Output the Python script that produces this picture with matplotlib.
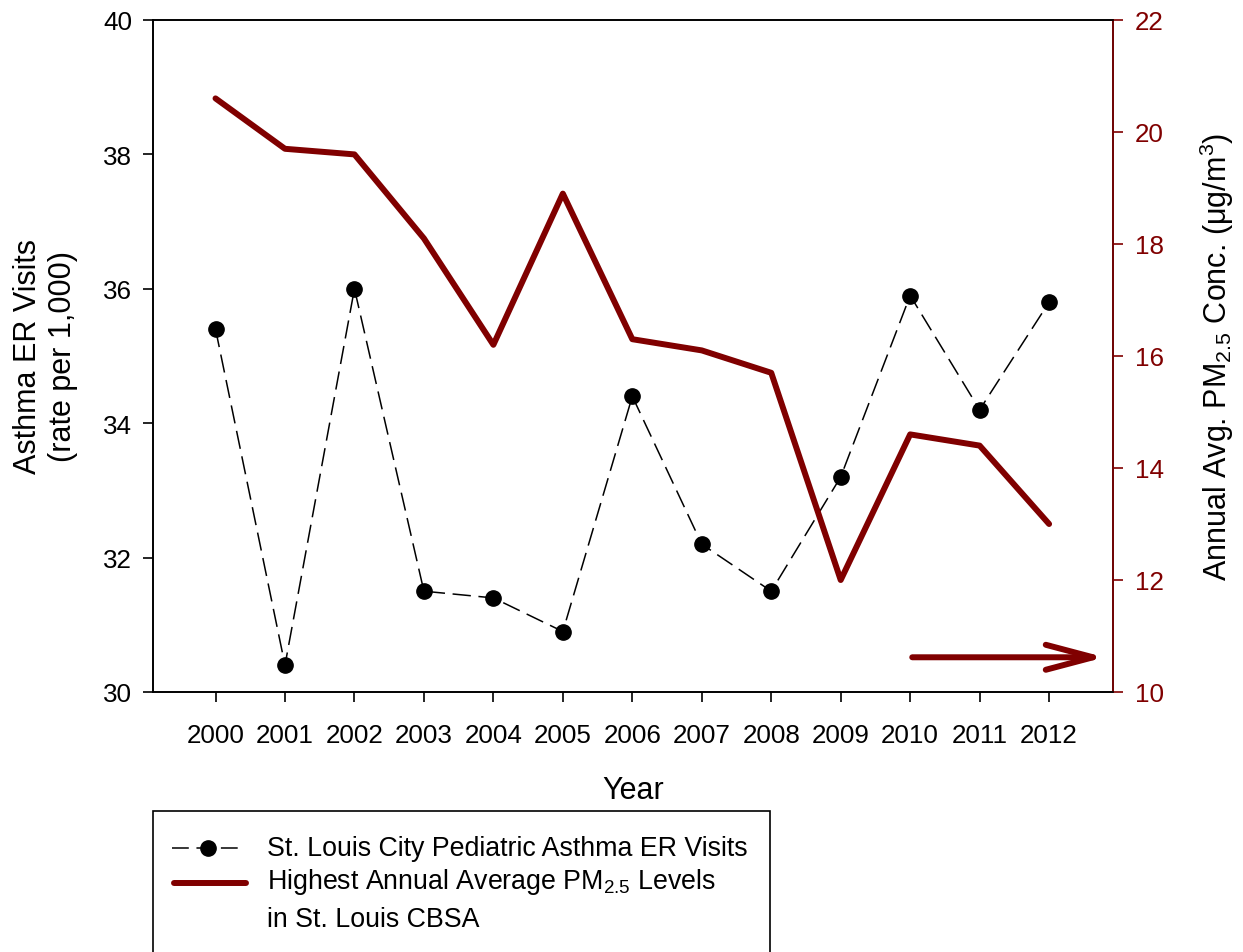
import matplotlib.pyplot as plt
from matplotlib.lines import Line2D
from matplotlib.patches import Rectangle

plt.rcParams['font.family'] = ['Liberation Sans', 'DejaVu Sans']
plt.rcParams['mathtext.fontset'] = 'custom'
plt.rcParams['mathtext.rm'] = 'Liberation Sans'
plt.rcParams['mathtext.default'] = 'regular'

years = [2000, 2001, 2002, 2003, 2004, 2005, 2006, 2007, 2008, 2009, 2010, 2011, 2012]
# pediatric asthma ER visits, rate per 1,000
er_visits = [35.4, 30.4, 36.0, 31.5, 31.4, 30.9, 34.4, 32.2, 31.5, 33.2, 35.9, 34.2, 35.8]
# highest annual average PM2.5 (ug/m3) in the CBSA
pm25 = [20.6, 19.7, 19.6, 18.1, 16.2, 18.9, 16.3, 16.1, 15.7, 12.0, 14.6, 14.4, 13.0]
year_labels = [str(y) for y in years]
trend_x = [2010.03, 2012.8]
trend_y = 10.62

red = '#800000'

fig = plt.figure(figsize=(12.43, 9.53), dpi=100)
ax = fig.add_axes([153 / 1243, 1 - 693 / 953, 960 / 1243, 672 / 953])
ax2 = ax.twinx()

ax.plot(years, er_visits, color='black', lw=1.1, linestyle=(0, (12, 5)),
        marker='o', markersize=11, zorder=3)
ax2.plot(years, pm25, color=red, lw=4.3, solid_capstyle='round')
ax2.annotate('', xy=(trend_x[1], trend_y), xytext=(trend_x[0], trend_y),
             arrowprops=dict(arrowstyle='->,head_length=1.7,head_width=0.45',
                             lw=4.3, color=red, mutation_scale=20,
                             shrinkA=0, shrinkB=0, capstyle='round'))

ax.set_xlim(1999.1, 2012.92)
ax.set_ylim(30, 40)
ax2.set_ylim(10, 22)
ax.set_xticks(years)
ax.set_xticklabels(year_labels)
ax.set_yticks(range(30, 41, 2))
ax2.set_yticks(range(10, 23, 2))

ax.tick_params(axis='x', direction='out', length=7, width=1.2, pad=15, labelsize=18.7)
ax.tick_params(axis='y', direction='out', length=7, width=1.2, pad=8, labelsize=18.7)
ax2.tick_params(axis='y', direction='out', length=7, width=1.2, pad=9, labelsize=18.7,
                colors=red)
for s in ax.spines.values():
    s.set_linewidth(1.2)
for s in ax2.spines.values():
    s.set_linewidth(1.2)
ax2.spines['right'].set_color(red)

ax.set_xlabel('Year', fontsize=22)
ax.xaxis.set_label_coords(0.5, -0.146)
ax.xaxis.label.set_va('center')
ax.set_ylabel('Asthma ER Visits\n(rate per 1,000)', fontsize=22, linespacing=1.2)
ax.yaxis.set_label_coords(-0.112, 0.5)
ax.yaxis.label.set_va('center')
ax2.set_ylabel(r'Annual Avg. PM$_{2.5}$ Conc. (μg/m$^{3}$)', fontsize=22)
ax2.yaxis.set_label_coords(1.108, 0.5)
ax2.yaxis.label.set_va('center')

# legend box drawn below the axes, running off the bottom edge
W, H = 1243, 953
fig.patches.append(Rectangle((153 / W, -0.05), (770 - 153) / W, (0.05 + 1 - 812 / H),
                             transform=fig.transFigure, fill=False,
                             edgecolor='black', lw=1.2))
fig.lines.append(Line2D([172 / W, 245 / W], [1 - 849 / H] * 2, transform=fig.transFigure,
                        color='black', lw=1.1, linestyle=(0, (11, 5))))
fig.lines.append(Line2D([208 / W], [1 - 849 / H], transform=fig.transFigure,
                        color='black', marker='o', markersize=11, linestyle='none'))
fig.lines.append(Line2D([174 / W, 246 / W], [1 - 884 / H] * 2, transform=fig.transFigure,
                        color=red, lw=4.3, solid_capstyle='round'))
fig.text(267 / W, 1 - 849 / H, 'St. Louis City Pediatric Asthma ER Visits',
         fontsize=19.3, va='center')
fig.text(267 / W, 1 - 882 / H, r'Highest Annual Average PM$_{2.5}$ Levels',
         fontsize=19.3, va='center')
fig.text(267 / W, 1 - 920 / H, 'in St. Louis CBSA', fontsize=19.3, va='center')

fig.savefig('out.png', dpi=100)
